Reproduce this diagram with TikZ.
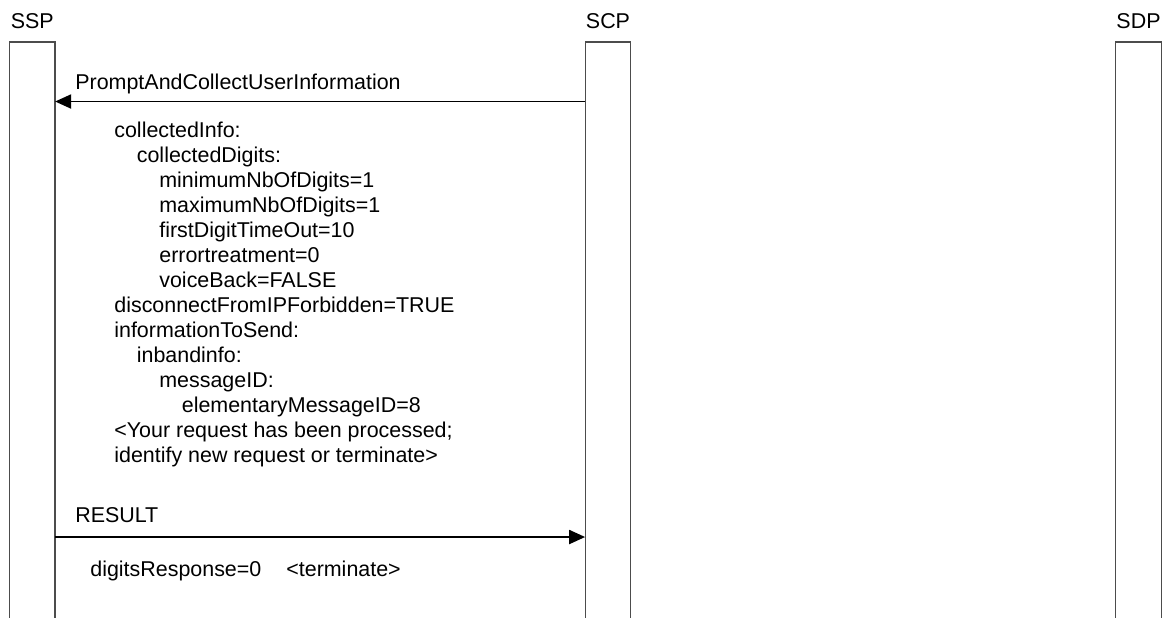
\documentclass[tikz,border=0pt]{standalone}
\usepackage{fontspec}
\setmainfont{Liberation Sans}
\usetikzlibrary{arrows.meta,positioning}

\begin{document}
\begin{tikzpicture}[
    font=\fontsize{12.2}{14.2}\selectfont,
    lifebox/.style={minimum width=0.9cm, minimum height=11.6cm, inner sep=0pt},
    boxline/.style={draw=black!70, line width=0.7pt},
    msg/.style={draw=black, line width=1.1pt, -{Triangle[length=0.32cm, width=0.28cm]}},
    msglabel/.style={anchor=base west, inner sep=0pt},
    params/.style={anchor=north west, inner sep=0pt, align=left}
]
\useasboundingbox (0,0) rectangle (23.36,-12.34);

% Lifelines
\node[lifebox, anchor=north] (ssp box) at (0.645,-0.84) {};
\node[lifebox, anchor=north] (scp box) at (12.16,-0.84) {};
\node[lifebox, anchor=north] (sdp box) at (22.77,-0.84) {};
\foreach \b in {ssp box, scp box, sdp box}
    \draw[boxline] (\b.south west) |- (\b.north east) -- (\b.south east);

% Entity names
\node[above=0.15cm of ssp box] (ssp) {SSP};
\node[above=0.15cm of scp box] (scp) {SCP};
\node[above=0.15cm of sdp box] (sdp) {SDP};

% PromptAndCollectUserInformation
\coordinate (m1) at (0,-2.03);
\draw[msg] (scp box.west |- m1) -- (ssp box.east |- m1);
\node[msglabel] (pcui) at (1.5,-1.78) {PromptAndCollectUserInformation};

\node[params] (pcui args) at (2.28,-2.44) {%
    collectedInfo:\\
    \hspace*{0.45cm}collectedDigits:\\
    \hspace*{0.9cm}minimumNbOfDigits=1\\
    \hspace*{0.9cm}maximumNbOfDigits=1\\
    \hspace*{0.9cm}firstDigitTimeOut=10\\
    \hspace*{0.9cm}errortreatment=0\\
    \hspace*{0.9cm}voiceBack=FALSE\\
    disconnectFromIPForbidden=TRUE\\
    informationToSend:\\
    \hspace*{0.45cm}inbandinfo:\\
    \hspace*{0.9cm}messageID:\\
    \hspace*{1.35cm}elementaryMessageID=8\\
    <Your request has been processed;\\
    identify new request or terminate>};

% RESULT
\coordinate (m2) at (0,-10.74);
\draw[msg] (ssp box.east |- m2) -- (scp box.west |- m2);
\node[msglabel] (result) at (1.5,-10.44) {RESULT};
\node[msglabel] (result args) at (1.8,-11.52) {digitsResponse=0\hspace{0.5cm}<terminate>};

\end{tikzpicture}
\end{document}
